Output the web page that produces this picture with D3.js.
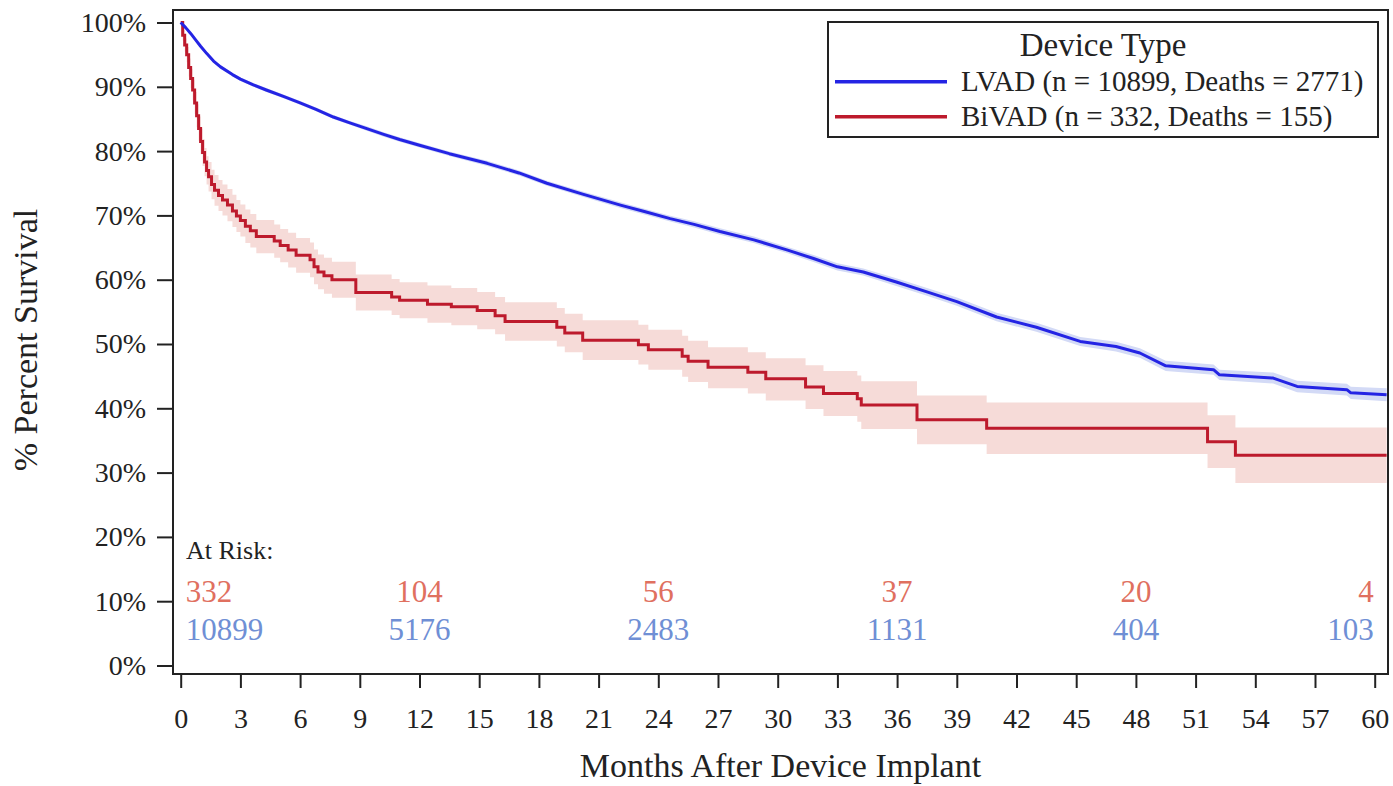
<!DOCTYPE html>
<html>
<head>
<meta charset="utf-8">
<script src="https://cdn.jsdelivr.net/npm/d3@7"></script>
<style>
  body { margin: 0; background: #ffffff; }
  svg text { font-family: "Liberation Serif", "Times New Roman", serif; fill: #222; }
</style>
</head>
<body>
<svg id="chart" width="1393" height="786"></svg>
<script>
// ---------------- DATA ----------------
const xTickValues = [0, 3, 6, 9, 12, 15, 18, 21, 24, 27, 30, 33, 36, 39, 42, 45, 48, 51, 54, 57, 60];
const yTickValues = [0, 10, 20, 30, 40, 50, 60, 70, 80, 90, 100];

// LVAD Kaplan-Meier estimate (months, % survival) with narrow confidence band
const lvadMonths   = [0,0.25,0.5,0.75,1.0,1.3,1.65,2.0,2.6,3.0,3.65,4.3,5.16,6.0,6.8,7.67,8.5,9.35,10.2,11.0,12.0,13.5,15.4,17.0,18.4,20.2,22.1,23.3,24.6,25.8,27.1,28.8,30.5,31.8,33.0,34.3,36.0,37.5,39.0,41.0,43.0,45.2,47.0,48.2,49.5,51.9,52.2,54.9,56.1,58.6,58.8,60.6];
const lvadSurvival = [100,99.2,98.3,97.3,96.3,95.2,94.0,93.1,91.9,91.2,90.3,89.5,88.5,87.5,86.5,85.3,84.4,83.5,82.6,81.8,80.9,79.6,78.1,76.6,75.0,73.3,71.6,70.6,69.5,68.6,67.5,66.2,64.6,63.3,62.0,61.2,59.6,58.1,56.6,54.2,52.6,50.4,49.6,48.6,46.6,46.0,45.2,44.7,43.4,42.9,42.4,42.1];
const lvadLower    = [100,99.1,98.15,97.1,96.1,95.0,93.75,92.85,91.65,90.9,90.0,89.2,88.2,87.2,86.2,85.0,84.1,83.15,82.25,81.45,80.55,79.25,77.7,76.2,74.6,72.9,71.15,70.15,69.05,68.1,67.0,65.7,64.1,62.75,61.45,60.65,59.0,57.5,55.95,53.55,51.9,49.7,48.85,47.85,45.8,45.2,44.4,43.85,42.5,42.0,41.45,41.1];
const lvadUpper    = [100,99.3,98.45,97.5,96.5,95.4,94.25,93.35,92.15,91.5,90.6,89.8,88.8,87.8,86.8,85.6,84.7,83.85,82.95,82.15,81.25,79.95,78.5,77.0,75.4,73.7,72.05,71.05,69.95,69.1,68.0,66.7,65.1,63.85,62.55,61.75,60.2,58.7,57.25,54.85,53.3,51.1,50.35,49.35,47.4,46.8,46.0,45.55,44.3,43.8,43.35,43.1];

// BiVAD Kaplan-Meier step estimate with confidence band
const bivadMonths   = [0,0.1,0.2,0.3,0.4,0.5,0.6,0.7,0.8,0.9,1.0,1.1,1.2,1.3,1.4,1.55,1.7,1.9,2.1,2.35,2.6,2.8,3.0,3.25,3.5,3.8,4.7,5.0,5.4,5.8,6.5,6.7,6.9,7.2,7.6,8.8,10.6,11.0,12.4,13.6,14.9,15.8,16.3,18.9,19.3,20.2,23.0,23.5,25.2,25.5,26.5,28.5,29.4,31.4,32.3,34.0,34.2,37.0,40.5,51.6,53.0,60.6];
const bivadSurvival = [100,98.0,96.5,95.0,93.0,91.3,89.5,87.5,85.5,83.5,81.5,79.8,78.3,77.0,76.0,74.8,73.9,73.1,72.4,71.6,70.7,69.9,69.2,68.3,67.6,66.7,66.0,65.3,64.6,63.8,63.1,62.0,61.2,60.6,60.0,58.0,57.3,56.8,56.2,55.8,55.2,54.4,53.5,52.6,51.7,50.6,49.9,49.1,48.1,47.3,46.4,45.6,44.6,43.3,42.3,41.5,40.5,38.2,36.9,34.8,32.7,32.7];
const bivadLower    = [100,97.2,95.5,93.8,91.6,89.8,87.9,85.8,83.7,81.6,79.5,77.7,76.1,74.8,73.7,72.5,71.5,70.7,70.0,69.1,68.2,67.4,66.7,65.7,65.0,64.1,63.4,62.7,61.9,61.1,60.4,59.3,58.5,57.8,57.2,55.2,54.5,54.0,53.3,52.9,52.3,51.5,50.5,49.6,48.7,47.5,46.8,46.0,44.9,44.1,43.1,42.3,41.2,39.9,38.8,37.9,36.8,34.4,32.9,30.7,28.4,28.4];
const bivadUpper    = [100,98.8,97.5,96.2,94.4,92.8,91.1,89.2,87.3,85.4,83.5,81.9,80.5,79.2,78.3,77.1,76.3,75.5,74.8,74.1,73.2,72.4,71.7,70.9,70.2,69.3,68.6,67.9,67.3,66.5,65.8,64.7,63.9,63.4,62.8,60.8,60.1,59.6,59.1,58.7,58.1,57.3,56.5,55.6,54.7,53.7,53.0,52.2,51.3,50.5,49.5,48.7,47.8,46.7,45.8,45.1,44.2,42.0,40.9,38.9,37.0,37.0];

// Numbers at risk
const atRiskMonths = [0, 12, 24, 36, 48, 60];
const atRiskBiVAD  = [332, 104, 56, 37, 20, 4];
const atRiskLVAD   = [10899, 5176, 2483, 1131, 404, 103];

// Legend
const legendTitle  = "Device Type";
const legendLabels = ["LVAD (n = 10899, Deaths = 2771)", "BiVAD (n = 332, Deaths = 155)"];
const xAxisTitle = "Months After Device Implant";
const yAxisTitle = "% Percent Survival";

// ---------------- STYLE / LAYOUT ----------------
const C = {
  blue: "#2424e4", blueBand: "#d3daf6",
  red: "#bd1a2c", redBand: "#f6dbd8",
  redText: "#e0705f", blueText: "#6f8fd5",
  axis: "#222"
};
const frame = { l: 173, t: 10, r: 1388, b: 674 };

const svg = d3.select("#chart");
svg.append("rect").attr("width", 1393).attr("height", 786).attr("fill", "#fff");

const x = d3.scaleLinear().domain([0, 60]).range([180.7, 1374.7]);
const y = d3.scaleLinear().domain([0, 100]).range([665.5, 22.5]);

svg.append("defs").append("clipPath").attr("id", "plotClip")
  .append("rect").attr("x", frame.l).attr("y", frame.t)
  .attr("width", frame.r - frame.l).attr("height", frame.b - frame.t);

const plot = svg.append("g").attr("clip-path", "url(#plotClip)");

const lvad = lvadMonths.map((m, i) => ({ m, s: lvadSurvival[i], lo: lvadLower[i], hi: lvadUpper[i] }));
const bivad = bivadMonths.map((m, i) => ({ m, s: bivadSurvival[i], lo: bivadLower[i], hi: bivadUpper[i] }));

// bands
plot.append("path").datum(bivad)
  .attr("fill", C.redBand)
  .attr("d", d3.area().curve(d3.curveStepAfter).x(d => x(d.m)).y0(d => y(d.lo)).y1(d => y(d.hi)));
plot.append("path").datum(lvad)
  .attr("fill", C.blueBand)
  .attr("d", d3.area().x(d => x(d.m)).y0(d => y(d.lo)).y1(d => y(d.hi)));

// lines
plot.append("path").datum(bivad)
  .attr("fill", "none").attr("stroke", C.red).attr("stroke-width", 3)
  .attr("d", d3.line().curve(d3.curveStepAfter).x(d => x(d.m)).y(d => y(d.s)));
plot.append("path").datum(lvad)
  .attr("fill", "none").attr("stroke", C.blue).attr("stroke-width", 3)
  .attr("stroke-linejoin", "round")
  .attr("d", d3.line().x(d => x(d.m)).y(d => y(d.s)));

// frame
svg.append("rect").attr("x", frame.l).attr("y", frame.t)
  .attr("width", frame.r - frame.l).attr("height", frame.b - frame.t)
  .attr("fill", "none").attr("stroke", C.axis).attr("stroke-width", 2);

// axes
const yAxis = svg.append("g").attr("transform", `translate(${frame.l},0)`)
  .call(d3.axisLeft(y).tickValues(yTickValues).tickFormat(d => d + "%").tickSize(16).tickPadding(11));
const xAxis = svg.append("g").attr("transform", `translate(0,${frame.b})`)
  .call(d3.axisBottom(x).tickValues(xTickValues).tickFormat(d => d).tickSize(14).tickPadding(20));
[yAxis, xAxis].forEach(g => {
  g.attr("font-family", null).attr("font-size", null);
  g.select(".domain").remove();
  g.selectAll(".tick line").attr("stroke", C.axis).attr("stroke-width", 2);
  g.selectAll(".tick text").style("font-size", "28px").attr("fill", "#222");
});

// axis titles
svg.append("text").attr("x", (frame.l + frame.r) / 2).attr("y", 777)
  .attr("text-anchor", "middle").style("font-size", "34px").text(xAxisTitle);
svg.append("text").attr("transform", "translate(37,340) rotate(-90)")
  .attr("text-anchor", "middle").style("font-size", "34px").text(yAxisTitle);

// at risk table
svg.append("text").attr("x", 186).attr("y", 559).style("font-size", "26px").text("At Risk:");
const riskAnchor = i => i === 0 ? "start" : (i === atRiskMonths.length - 1 ? "end" : "middle");
const riskX = (m, i) => i === 0 ? x(m) + 5 : (i === atRiskMonths.length - 1 ? x(m) - 1 : x(m));
atRiskMonths.forEach((m, i) => {
  svg.append("text").attr("x", riskX(m, i)).attr("y", 602).attr("text-anchor", riskAnchor(i))
    .style("font-size", "31px").style("fill", C.redText).text(atRiskBiVAD[i]);
  svg.append("text").attr("x", riskX(m, i)).attr("y", 640).attr("text-anchor", riskAnchor(i))
    .style("font-size", "31px").style("fill", C.blueText).text(atRiskLVAD[i]);
});

// legend
const lg = svg.append("g");
lg.append("rect").attr("x", 828).attr("y", 22).attr("width", 550).attr("height", 115)
  .attr("fill", "#fff").attr("stroke", C.axis).attr("stroke-width", 2);
lg.append("text").attr("x", 1103).attr("y", 56).attr("text-anchor", "middle")
  .style("font-size", "33px").text(legendTitle);
const legendColors = [C.blue, C.red];
legendLabels.forEach((lab, i) => {
  const ly = 81.7 + i * 35;
  lg.append("line").attr("x1", 835).attr("x2", 947).attr("y1", ly).attr("y2", ly)
    .attr("stroke", legendColors[i]).attr("stroke-width", 3.5);
  lg.append("text").attr("x", 961).attr("y", ly + 9.5).style("font-size", "29px").text(lab);
});
</script>
</body>
</html>
